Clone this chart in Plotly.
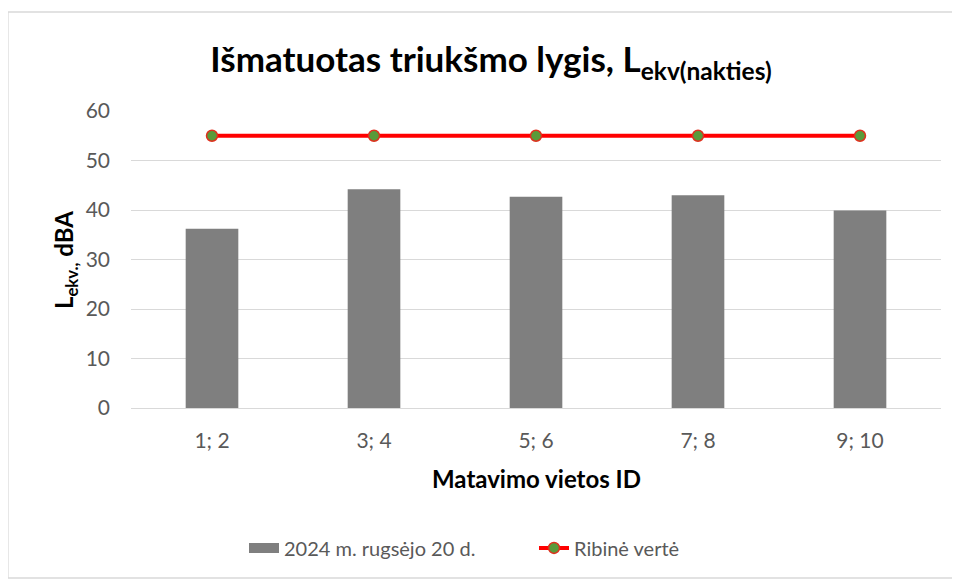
import plotly.graph_objects as go

categories = ["1; 2", "3; 4", "5; 6", "7; 8", "9; 10"]
measured = [36.2, 44.2, 42.7, 43.0, 39.9]
limit = [55, 55, 55, 55, 55]
series_names = ["2024 m. rugsėjo 20 d.", "Ribinė vertė"]
y_ticks = [0, 10, 20, 30, 40, 50, 60]

FONT = "Lato"
BAR_COLOR = "#7f7f7f"
fig = go.Figure()
fig.add_trace(go.Bar(x=categories, y=measured, name=series_names[0], showlegend=False,
                     legendgroup="bars", marker=dict(color=BAR_COLOR, line=dict(width=0))))
# legend entry for the bars (wide rectangular swatch like the reference)
fig.add_trace(go.Scatter(x=[None], y=[None], name=series_names[0], mode="lines",
                         legendgroup="bars", line=dict(color=BAR_COLOR, width=13)))
fig.add_trace(go.Scatter(x=categories, y=limit, name=series_names[1], mode="lines+markers",
                         line=dict(color="#ff0000", width=4),
                         marker=dict(color="#5a9a3a", size=11, line=dict(color="#e0301e", width=1.5))))

fig.update_layout(
    width=952, height=573,
    paper_bgcolor="white", plot_bgcolor="white",
    margin=dict(l=123, r=19, t=103, b=173),
    bargap=0.675,
    font=dict(family=FONT, size=21, color="#595959"),
    showlegend=True,
    legend=dict(orientation="h", x=(526 - 123) / 810, xanchor="center", y=-0.471, yanchor="middle",
                font=dict(size=20, color="#595959"), traceorder="normal",
                entrywidth=245, entrywidthmode="pixels"),
    title=dict(text="<b>Išmatuotas triukšmo lygis, L<sub>ekv(nakties)</sub></b>",
               x=483 / 952, xanchor="center", y=1 - 52 / 573, yanchor="middle",
               font=dict(family=FONT, size=35, color="#000000")),
    xaxis=dict(showgrid=False, showline=True, linecolor="#d9d9d9", linewidth=1,
               ticks="", ticklabelstandoff=14, tickfont=dict(size=21, color="#595959")),
    yaxis=dict(range=[0, 60], tickvals=y_ticks, showgrid=True, gridcolor="#d9d9d9", gridwidth=1,
               zeroline=False, showline=False, ticks="", ticklabelstandoff=20,
               tickfont=dict(size=21, color="#595959")),
    annotations=[
        dict(text="<b>L<sub>ekv.,</sub> dBA</b>", textangle=-90, xref="paper", yref="paper",
             x=-0.0815, y=0.498, xanchor="center", yanchor="middle", showarrow=False,
             font=dict(family=FONT, size=24, color="#000000")),
        dict(text="<b>Matavimo vietos ID</b>", xref="paper", yref="paper",
             x=0.5, y=-0.239, xanchor="center", yanchor="middle", showarrow=False,
             font=dict(family=FONT, size=24, color="#000000")),
    ],
    shapes=[dict(type="rect", xref="paper", yref="paper",
                 x0=-0.152, x1=1.0185, y0=-0.572, y1=1.333,
                 line=dict(color="#d9d9d9", width=1.5), fillcolor="rgba(0,0,0,0)", layer="below")],
)

fig.write_html("out.html")
